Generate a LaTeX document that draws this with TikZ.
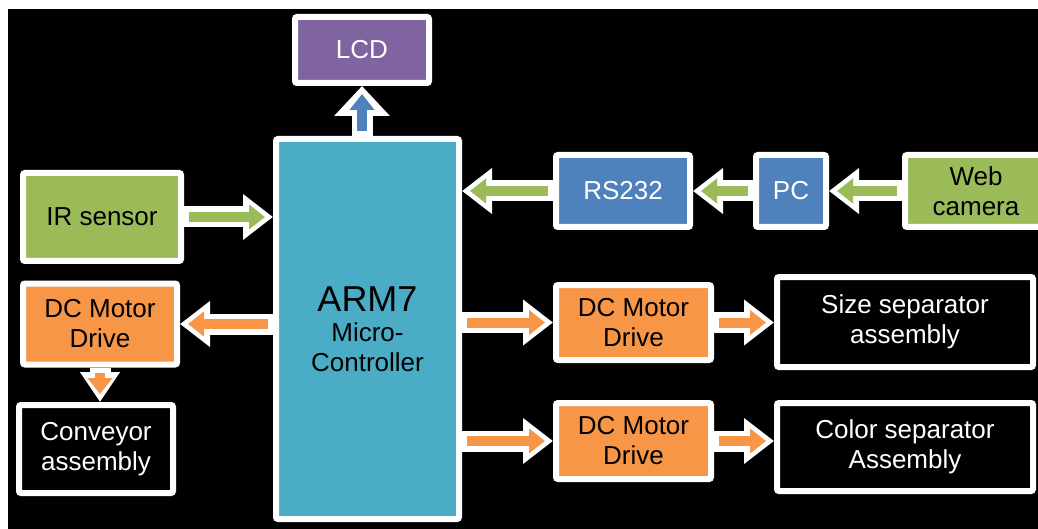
\documentclass[tikz,border=0pt]{standalone}
\usepackage{fontspec}
\setmainfont{Liberation Sans}
\usetikzlibrary{arrows.meta}
\definecolor{lcdpurple}{HTML}{8064A2}
\definecolor{armteal}{HTML}{4BACC6}
\definecolor{linkblue}{HTML}{4F81BD}
\definecolor{sensgreen}{HTML}{9BBB59}
\definecolor{drvorange}{HTML}{F79646}
\newcommand{\blockarrow}[4][44pt]{%
  \draw[white, line width=21pt, -{Triangle[length=30pt,width=#1]}] #3 -- #4;
  \draw[#2, line width=10pt, shorten <=5pt, shorten >=8pt, -{Triangle[length=16pt,width=24pt]}] #3 -- #4;
}

\begin{document}
\begin{tikzpicture}[x=1pt, y=-1pt, font=\fontsize{26}{30}\selectfont,
  box/.style={draw=white, line width=6pt, rounded corners=2pt, align=center, inner sep=0pt}]
	\useasboundingbox (0,0) rectangle (1038,529);
	\fill[white] (0,0) rectangle (1038,529);
	\fill[black] (8,9) rectangle (1038,529);
	\node[box, fill=lcdpurple, text=white, minimum width=134pt, minimum height=66pt] (lcd) at (362,50) {LCD};
	\node[box, fill=armteal, minimum width=183pt, minimum height=380pt] (arm) at (367.5,329) {{\fontsize{36}{40}\selectfont ARM7}\\Micro-\\Controller};
	\node[box, fill=sensgreen, minimum width=158pt, minimum height=88pt] (ir) at (102,217) {IR sensor};
	\node[box, fill=drvorange, minimum width=154pt, minimum height=81pt] (dcl) at (100,324) {DC Motor\\Drive};
	\node[box, fill=black, text=white, minimum width=154pt, minimum height=88pt] (conv) at (96,449) {Conveyor\\assembly};
	\node[box, fill=linkblue, text=white, minimum width=134pt, minimum height=72pt] (rs) at (623,191) {RS232};
	\node[box, fill=linkblue, text=white, minimum width=70pt, minimum height=72pt] (pc) at (791,191) {PC};
	\node[box, fill=sensgreen, minimum width=142pt, minimum height=72pt] (web) at (976,191) {Web\\camera};
	\node[box, fill=drvorange, minimum width=155pt, minimum height=75pt] (dcm) at (633.5,322.5) {DC Motor\\Drive};
	\node[box, fill=black, text=white, minimum width=256pt, minimum height=90pt] (sizesep) at (905,322) {Size separator\\assembly};
	\node[box, fill=drvorange, minimum width=155pt, minimum height=76pt] (dcb) at (633.5,441) {DC Motor\\Drive};
	\node[box, fill=black, text=white, minimum width=256pt, minimum height=88pt] (colsep) at (905,447) {Color separator\\Assembly};
	\blockarrow[54pt]{linkblue}{(arm.north -| lcd.south)}{(lcd.south)}
	\blockarrow{sensgreen}{(ir.east)}{(ir.east -| arm.west)}
	\blockarrow{sensgreen}{(rs.west)}{(rs.west -| arm.east)}
	\blockarrow{sensgreen}{(pc.west)}{(rs.east)}
	\blockarrow{sensgreen}{(web.west)}{(pc.east)}
	\blockarrow{drvorange}{(arm.west |- dcl.east)}{(dcl.east)}
	\blockarrow[38pt]{drvorange}{(dcl.south)}{(dcl.south |- conv.north)}
	\blockarrow{drvorange}{(arm.east |- dcm.west)}{(dcm.west)}
	\blockarrow{drvorange}{(dcm.east)}{(dcm.east -| sizesep.west)}
	\blockarrow{drvorange}{(arm.east |- dcb.west)}{(dcb.west)}
	\blockarrow{drvorange}{(dcb.east)}{(dcb.east -| colsep.west)}
\end{tikzpicture}
\end{document}
